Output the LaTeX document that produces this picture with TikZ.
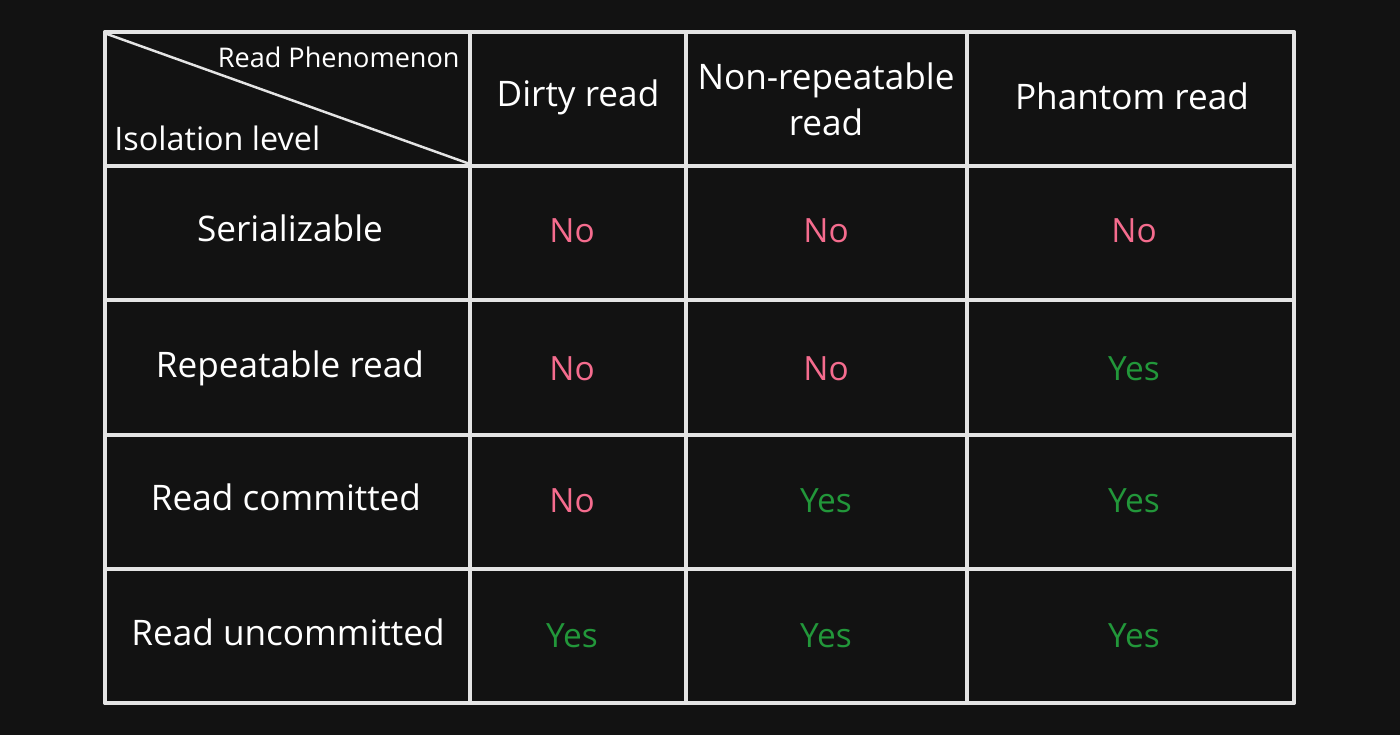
\documentclass[tikz,border=0pt]{standalone}
\usepackage{fontspec}
\setmainfont{Open Sans}
\usetikzlibrary{positioning}
\definecolor{board_black}{HTML}{121212}
\definecolor{chalk_white}{HTML}{E4E4E4}
\definecolor{no_pink}{HTML}{F56C8E}
\definecolor{yes_green}{HTML}{22973A}
\tikzset{
	head/.style={text=white, font=\fontsize{10}{13}\selectfont, align=center},
	corner/.style={text=white, font=\fontsize{7.7}{10}\selectfont},
	noans/.style={text=no_pink, font=\fontsize{9.5}{11}\selectfont},
	yesans/.style={text=yes_green, font=\fontsize{9.5}{11}\selectfont}
}

\begin{document}
\begin{tikzpicture}[x=0.01cm,y=-0.01cm,line join=round,line cap=round]
		\fill[board_black] (0,0) rectangle (1400,735);
		% grid
		\foreach\x in {105,470,686,967,1294}
			\draw[chalk_white, line width=1.05pt] (\x,32) -- (\x,703);
		\foreach\y in {32,166,300,435,569,703}
			\draw[chalk_white, line width=1.05pt] (105,\y) -- (1294,\y);
		% corner cell
		\coordinate (tl) at (107,34);
		\coordinate (br) at (470,164);
		\draw[chalk_white, line width=0.7pt] (tl) -- (br);
		\node[corner, anchor=east] (phen) at (472,57) {Read Phenomenon};
		\node[corner, anchor=west, font=\fontsize{9.2}{10}\selectfont] (iso) at (102,138) {Isolation level};
		% column heads
		\node[head] (c1) at (578,97) {Dirty read};
		\node[head] (c2) at (826,99) {Non-repeatable\\read};
		\node[head] (c3) at (1132,96) {Phantom read};
		% row heads
		\node[head] (r1) at (290,228) {Serializable};
		\node[head] (r2) at (290,368) {Repeatable read};
		\node[head] (r3) at (286,497) {Read committed};
		\node[head] (r4) at (288,632) {Read uncommitted};
		% answers
		\foreach\r/\y in {1/231,2/369,3/501,4/636}
		{
			\foreach\c/\x in {1/572,2/826,3/1134}
			{
				\pgfmathtruncatemacro\s{\r+\c}
				\ifnum\s>4
					\node[yesans] (a\r\c) at (\x,\y) {Yes};
				\else
					\node[noans] (a\r\c) at (\x,\y) {No};
				\fi
			}
		}
\end{tikzpicture}
\end{document}
